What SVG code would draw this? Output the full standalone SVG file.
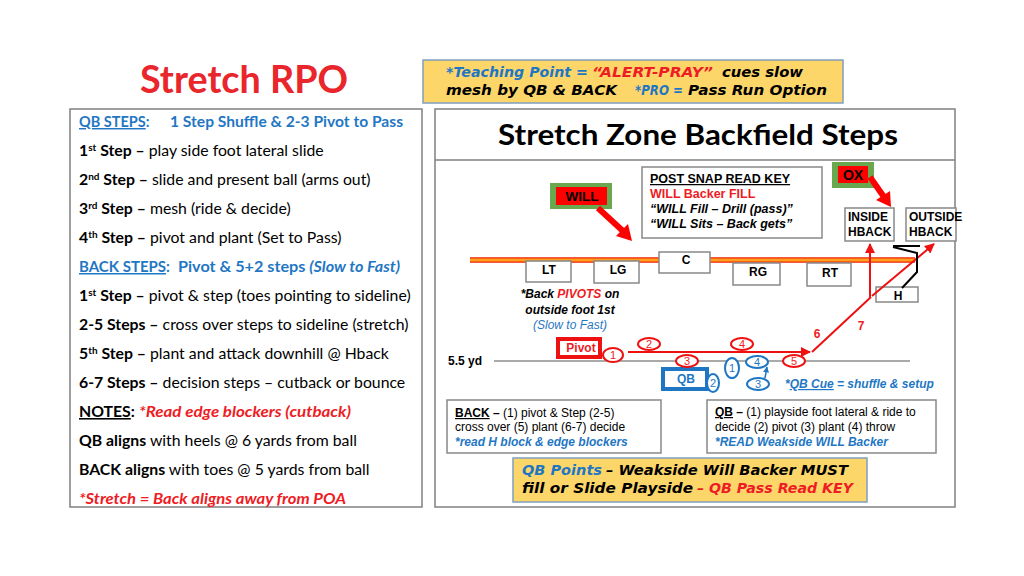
<svg xmlns="http://www.w3.org/2000/svg" width="1024" height="576" viewBox="0 0 1024 576">
<defs>
<style>
.cal{font-family:Lato,"Open Sans",sans-serif;font-size:15.8px;fill:#000}
.ar{font-family:"Liberation Sans",Arial,sans-serif;fill:#000}
.dv{font-family:"DejaVu Sans","Liberation Sans",sans-serif;font-weight:bold;font-style:italic;font-size:14px;fill:#000}
.b{font-weight:bold}
.i{font-style:italic}
.blue{fill:#1f77c4}
.red{fill:#ee1c24}
.u{text-decoration:underline}
.panel{fill:#fff;stroke:#808080;stroke-width:1.5}
.ol{fill:#fff;stroke:#888;stroke-width:1.5}
.yel{fill:#fdd66a;stroke:#7f9fc0;stroke-width:1.5}
.rt{fill:none;stroke:#ee1111;stroke-width:2}
.rel{fill:#fff;stroke:#ee1111;stroke-width:2}
.bel{fill:#fff;stroke:#1f77c4;stroke-width:2}
.num{font-family:"Liberation Sans",Arial,sans-serif;font-size:11px;text-anchor:middle}
</style>
<marker id="ra" viewBox="0 0 10 10" refX="9" refY="5" markerWidth="5" markerHeight="5" orient="auto"><path d="M0,0 L10,5 L0,10 z" fill="#ee1111"/></marker>
<marker id="ba" viewBox="0 0 10 10" refX="9" refY="5" markerWidth="4" markerHeight="4" orient="auto"><path d="M0,0 L10,5 L0,10 z" fill="#1f77c4"/></marker>
</defs>
<rect width="1024" height="576" fill="#fff"/>

<g id="title">
<text x="140" y="93" class="cal b" style="font-size:38px;fill:#e8262b" textLength="208" lengthAdjust="spacingAndGlyphs">Stretch RPO</text>
</g>

<g id="teaching-point">
<rect x="423" y="60" width="420" height="43" class="yel"/>
<text x="446" y="77" class="dv blue" textLength="142" lengthAdjust="spacingAndGlyphs">*Teaching Point =</text>
<text x="592" y="77" class="dv red" textLength="121" lengthAdjust="spacingAndGlyphs">“ALERT-PRAY”</text>
<text x="722" y="77" class="dv" textLength="81" lengthAdjust="spacingAndGlyphs">cues slow</text>
<text x="446" y="95" class="dv" textLength="171" lengthAdjust="spacingAndGlyphs">mesh by QB &amp; BACK</text>
<text x="635" y="95" class="dv blue" textLength="48" lengthAdjust="spacingAndGlyphs">*PRO =</text>
<text x="688" y="95" class="dv" textLength="139" lengthAdjust="spacingAndGlyphs">Pass Run Option</text>
</g>

<g id="left-panel">
<rect x="70" y="109" width="352" height="398" class="panel"/>
<text x="79" y="127" class="cal b blue" style="font-size:14.5px"><tspan class="u">QB STEPS</tspan>:</text>
<text x="170" y="127" class="cal b blue" style="font-size:14.5px" textLength="233" lengthAdjust="spacingAndGlyphs">1 Step Shuffle &amp; 2-3 Pivot to Pass</text>
<text x="79" y="156" class="cal"><tspan class="b">1<tspan dy="-5" style="font-size:10px">st</tspan><tspan dy="5"> Step –</tspan></tspan> play side foot lateral slide</text>
<text x="79" y="185" class="cal"><tspan class="b">2<tspan dy="-5" style="font-size:10px">nd</tspan><tspan dy="5"> Step –</tspan></tspan> slide and present ball (arms out)</text>
<text x="79" y="214" class="cal"><tspan class="b">3<tspan dy="-5" style="font-size:10px">rd</tspan><tspan dy="5"> Step –</tspan></tspan> mesh (ride &amp; decide)</text>
<text x="79" y="243" class="cal"><tspan class="b">4<tspan dy="-5" style="font-size:10px">th</tspan><tspan dy="5"> Step –</tspan></tspan> pivot and plant (Set to Pass)</text>
<text x="79" y="272" class="cal b blue" style="font-size:15px"><tspan class="u">BACK STEPS</tspan>:</text>
<text x="178" y="272" class="cal b blue" style="font-size:15px" textLength="222" lengthAdjust="spacingAndGlyphs">Pivot &amp; 5+2 steps <tspan class="i">(Slow to Fast)</tspan></text>
<text x="79" y="301" class="cal"><tspan class="b">1<tspan dy="-5" style="font-size:10px">st</tspan><tspan dy="5"> Step –</tspan></tspan> pivot &amp; step (toes pointing to sideline)</text>
<text x="79" y="330" class="cal"><tspan class="b">2-5 Steps –</tspan> cross over steps to sideline (stretch)</text>
<text x="79" y="359" class="cal"><tspan class="b">5<tspan dy="-5" style="font-size:10px">th</tspan><tspan dy="5"> Step –</tspan></tspan> plant and attack downhill @ Hback</text>
<text x="79" y="388" class="cal"><tspan class="b">6-7 Steps –</tspan> decision steps – cutback or bounce</text>
<text x="79" y="417" class="cal b"><tspan class="u">NOTES</tspan>:</text>
<text x="139" y="417" class="cal b i red" textLength="212" lengthAdjust="spacingAndGlyphs">*Read edge blockers (cutback)</text>
<text x="79" y="446" class="cal"><tspan class="b">QB aligns</tspan> with heels @ 6 yards from ball</text>
<text x="79" y="475" class="cal"><tspan class="b">BACK aligns</tspan> with toes @ 5 yards from ball</text>
<text x="79" y="504" class="cal b i red" textLength="267" lengthAdjust="spacingAndGlyphs">*Stretch = Back aligns away from POA</text>
</g>

<g id="right-panel">
<rect x="435" y="109" width="520" height="398" class="panel"/>
<line x1="435" y1="160" x2="955" y2="160" stroke="#808080" stroke-width="1.5"/>
<text x="498" y="145" class="cal b" style="font-size:29px" textLength="400" lengthAdjust="spacingAndGlyphs">Stretch Zone Backfield Steps</text>
</g>

<g id="read-key">
<rect x="642" y="167" width="180" height="71" class="ol"/>
<text x="650" y="183" class="ar b u" font-size="12.5">POST SNAP READ KEY</text>
<text x="650" y="198" class="ar b red" font-size="12.5">WILL Backer FILL</text>
<text x="650" y="213" class="ar b i" font-size="12.5">“WILL Fill – Drill (pass)”</text>
<text x="650" y="228" class="ar b i" font-size="12.5">“WILL Sits – Back gets”</text>
</g>

<g id="will">
<rect x="550" y="183" width="62" height="26" fill="#6aa84f"/>
<rect x="556" y="187" width="51" height="18" fill="#ff0000"/>
<text x="582" y="201" class="ar b" font-size="13.5" text-anchor="middle">WILL</text>
</g>

<g id="ox">
<rect x="832" y="162" width="42" height="26" fill="#6aa84f"/>
<rect x="838" y="166" width="30" height="17" fill="#ff0000"/>
<text x="853" y="180" class="ar b" font-size="14" text-anchor="middle">OX</text>
</g>

<g id="inside-hback">
<rect x="845" y="208" width="49" height="33" class="ol"/>
<text x="848" y="221" class="ar b" font-size="12">INSIDE</text>
<text x="848" y="236" class="ar b" font-size="12">HBACK</text>
</g>
<g id="outside-hback">
<rect x="906" y="208" width="50" height="33" class="ol"/>
<text x="909" y="221" class="ar b" font-size="12">OUTSIDE</text>
<text x="909" y="236" class="ar b" font-size="12">HBACK</text>
</g>

<g id="los">
<line x1="470" y1="260" x2="915" y2="260" stroke="#ee2200" stroke-width="5.5"/>
<line x1="470" y1="260" x2="915" y2="260" stroke="#ffa020" stroke-width="3"/>
</g>

<g id="lt"><rect x="526" y="261" width="45" height="21" class="ol"/><text x="549" y="274" class="ar b" font-size="12" text-anchor="middle">LT</text></g>
<g id="lg"><rect x="594" y="261" width="45" height="22" class="ol"/><text x="618" y="274" class="ar b" font-size="12" text-anchor="middle">LG</text></g>
<g id="c"><rect x="659" y="252" width="51" height="21" class="ol"/><text x="686" y="264" class="ar b" font-size="12" text-anchor="middle">C</text></g>
<g id="rg"><rect x="733" y="263" width="47" height="22" class="ol"/><text x="758" y="276" class="ar b" font-size="12" text-anchor="middle">RG</text></g>
<g id="rt"><rect x="807" y="263" width="44" height="23" class="ol"/><text x="830" y="277" class="ar b" font-size="12" text-anchor="middle">RT</text></g>
<g id="h"><rect x="876" y="287" width="42" height="15" class="ol"/><text x="898" y="300" class="ar b" font-size="12" text-anchor="middle">H</text></g>

<g id="back-note">
<text x="570" y="298" class="ar b i" font-size="12" text-anchor="middle">*Back <tspan class="red">PIVOTS</tspan> on</text>
<text x="570" y="314" class="ar b i" font-size="12" text-anchor="middle">outside foot 1st</text>
<text x="570" y="329" class="ar i blue" font-size="12" text-anchor="middle">(Slow to Fast)</text>
</g>

<g id="yard-line">
<line x1="494" y1="361" x2="910" y2="361" stroke="#555" stroke-width="1"/>
<text x="448" y="365" class="ar b" font-size="12">5.5 yd</text>
</g>

<g id="connectors">
<line x1="598" y1="208" x2="624" y2="232" stroke="#ff0000" stroke-width="6"/>
<polygon points="632,241 616,236 628,224" fill="#ff0000"/>
<line x1="870" y1="177" x2="884" y2="197" stroke="#ff0000" stroke-width="6"/>
<polygon points="891,207 876,200 890,191" fill="#ff0000"/>
<line x1="628" y1="352" x2="810" y2="352" class="rt" marker-end="url(#ra)"/>
<line x1="812" y1="352" x2="871" y2="297" class="rt"/>
<line x1="870" y1="297" x2="870" y2="244" class="rt" marker-end="url(#ra)"/>
<line x1="872" y1="296" x2="934" y2="244" class="rt" marker-end="url(#ra)"/>
<path d="M893,246 L920,246 M893,247 L917,253 L917,272 L902,288" fill="none" stroke="#000" stroke-width="2"/>
<line x1="765" y1="378" x2="767" y2="367" stroke="#1f77c4" stroke-width="1.5" marker-end="url(#ba)"/>
</g>

<g id="pivot">
<rect x="558" y="339" width="42" height="18" fill="#fff" stroke="#ee1111" stroke-width="4"/>
<text x="581" y="352" class="ar b red" font-size="12" text-anchor="middle">Pivot</text>
</g>
<g id="qb">
<rect x="663" y="369" width="44" height="20" fill="#fff" stroke="#1f77c4" stroke-width="4"/>
<text x="686" y="383" class="ar b blue" font-size="12" text-anchor="middle">QB</text>
</g>

<g id="back-steps">
<ellipse cx="613" cy="355" rx="10" ry="7" class="rel"/><text x="613" y="359" class="num red">1</text>
<ellipse cx="649" cy="344" rx="11" ry="6" class="rel"/><text x="649" y="348" class="num red">2</text>
<ellipse cx="687" cy="361" rx="11" ry="6" class="rel"/><text x="687" y="365" class="num red">3</text>
<ellipse cx="742" cy="344" rx="11" ry="6" class="rel"/><text x="742" y="348" class="num red">4</text>
<ellipse cx="794" cy="361" rx="11" ry="6" class="rel"/><text x="794" y="365" class="num red">5</text>
<text x="817" y="338" class="ar b red" font-size="12" text-anchor="middle">6</text>
<text x="861" y="330" class="ar b red" font-size="12" text-anchor="middle">7</text>
</g>

<g id="qb-steps">
<ellipse cx="732" cy="368" rx="7" ry="10" class="bel"/><text x="732" y="372" class="num blue">1</text>
<ellipse cx="713" cy="383" rx="6" ry="9" class="bel"/><text x="713" y="387" class="num blue">2</text>
<ellipse cx="758" cy="384" rx="11" ry="6" class="bel"/><text x="758" y="388" class="num blue">3</text>
<ellipse cx="757" cy="362" rx="11" ry="6" class="bel"/><text x="757" y="366" class="num blue">4</text>
<text x="785" y="388" class="ar b i blue" font-size="12">*<tspan class="u">QB Cue</tspan> = shuffle &amp; setup</text>
</g>

<g id="back-box">
<rect x="447" y="400" width="214" height="53" class="ol"/>
<text x="455" y="417" class="ar" font-size="12"><tspan class="b u">BACK</tspan><tspan class="b"> –</tspan> (1) pivot &amp; Step (2-5)</text>
<text x="455" y="431" class="ar" font-size="12">cross over (5) plant (6-7) decide</text>
<text x="455" y="446" class="ar b i blue" font-size="12">*read H block &amp; edge blockers</text>
</g>

<g id="qb-box">
<rect x="707" y="400" width="229" height="53" class="ol"/>
<text x="715" y="416" class="ar" font-size="12"><tspan class="b u">QB</tspan><tspan class="b"> –</tspan> (1) playside foot lateral &amp; ride to</text>
<text x="715" y="431" class="ar" font-size="12">decide (2) pivot (3) plant (4) throw</text>
<text x="715" y="446" class="ar b i blue" font-size="12">*READ Weakside WILL Backer</text>
</g>

<g id="qb-points">
<rect x="513" y="458" width="354" height="44" class="yel"/>
<text x="522" y="475" class="dv blue" textLength="80" lengthAdjust="spacingAndGlyphs">QB Points</text>
<text x="606" y="475" class="dv" textLength="242" lengthAdjust="spacingAndGlyphs">– Weakside Will Backer MUST</text>
<text x="522" y="493" class="dv" textLength="171" lengthAdjust="spacingAndGlyphs">fill or Slide Playside</text>
<text x="697" y="493" class="dv red" textLength="156" lengthAdjust="spacingAndGlyphs">– QB Pass Read KEY</text>
</g>
</svg>
